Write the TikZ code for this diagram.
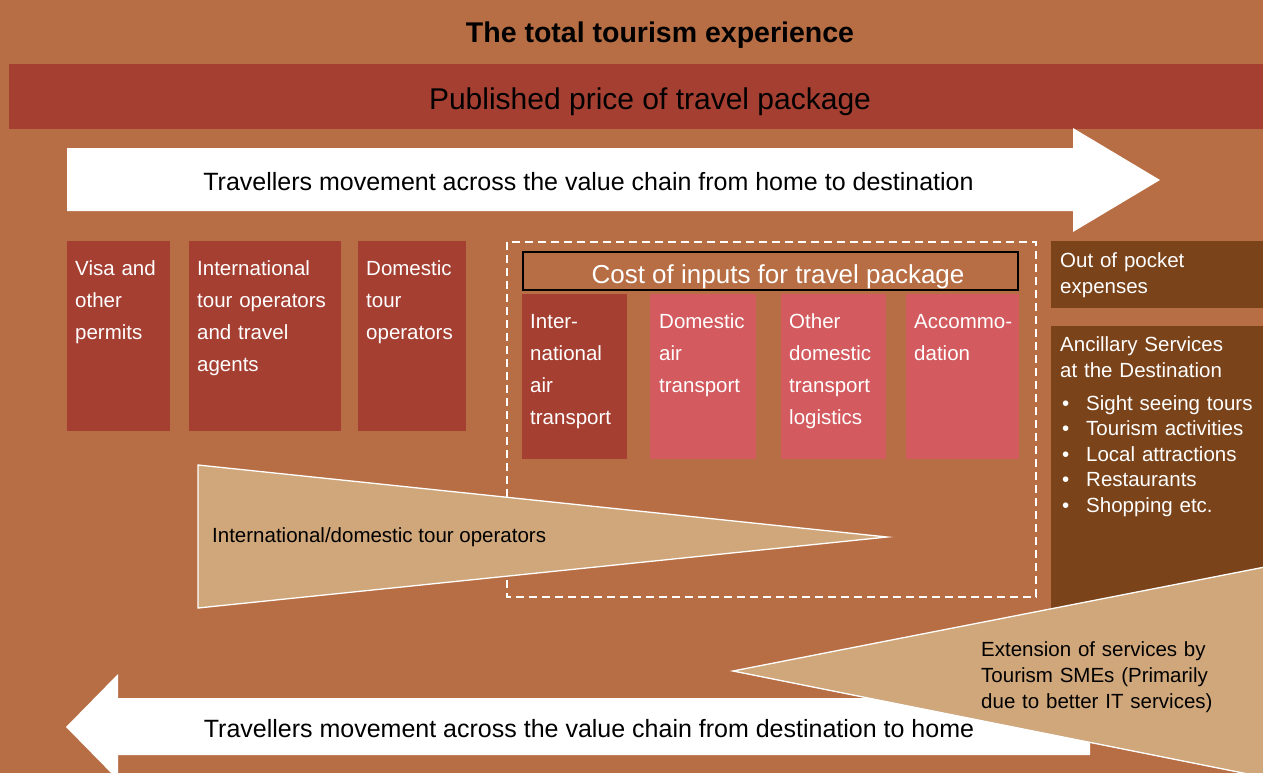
\documentclass[tikz,border=0pt]{standalone}
\usepackage{fontspec}
\setmainfont{Liberation Sans}
\definecolor{bg}{HTML}{B86E44}
\definecolor{darkred}{HTML}{A53F32}
\definecolor{pinkred}{HTML}{D35A5E}
\definecolor{brownbox}{HTML}{7A431A}
\definecolor{tanfill}{HTML}{D0A77B}
\begin{document}
\begin{tikzpicture}[x=1pt,y=-1pt,
  boxtxt/.style={anchor=base west,inner sep=0pt,text=white,align=left,text width=#1,font=\fontsize{20.5}{32}\selectfont},
  sidetxt/.style={anchor=base west,inner sep=0pt,text=white,align=left,text width=#1,font=\fontsize{20.5}{26}\selectfont},
  bultxt/.style={anchor=base west,inner sep=0pt,text=white,align=left,text width=#1,font=\fontsize{20.5}{25.5}\selectfont},
  arrowtxt/.style={anchor=base,inner sep=0pt,text=black,font=\fontsize{25}{30}\selectfont},
  tanshape/.style={fill=tanfill,draw=white,line width=1.3pt},
  whiteshape/.style={fill=white},
  redbox/.style={fill=darkred},
  pinkbox/.style={fill=pinkred},
  brownrect/.style={fill=brownbox}
]
\useasboundingbox (0,0) rectangle (1263,773);
\fill[bg] (0,0) rectangle (1263,773);

% title
\node[anchor=base,inner sep=0pt,font=\bfseries\fontsize{28.5}{34}\selectfont] (title) at (660,43) {The total tourism experience};

% published price band
\fill[redbox] (9,64) rectangle (1263,129);
\node[anchor=base,inner sep=0pt,font=\fontsize{30}{36}\selectfont] (price) at (650,110) {Published price of travel package};

% top arrow
\fill[whiteshape] (67,148) -- (1073,148) -- (1073,128) -- (1160,180) -- (1073,232) -- (1073,211) -- (67,211) -- cycle;
\node[arrowtxt] (toptxt) at (588.5,190) {Travellers movement across the value chain from home to destination};

% left boxes
\fill[redbox] (67,241) rectangle (170,431);
\fill[redbox] (189,241) rectangle (341,431);
\fill[redbox] (358,241) rectangle (466,431);
\node[boxtxt=95pt] (visa) at (75,275) {Visa and\\other\\permits};
\node[boxtxt=145pt] (intl) at (197,275) {International\\tour operators\\and travel\\agents};
\node[boxtxt=100pt] (dom) at (366,275) {Domestic\\tour\\operators};

% dashed box
\draw[white,line width=2pt,dash pattern=on 8pt off 5pt] (507,242) rectangle (1036,597);

% cost header
\draw[fill=bg,draw=black,line width=1.2pt] (523,252) rectangle (1018,290);
\node[anchor=base,inner sep=0pt,text=white,font=\fontsize{26}{30}\selectfont] (cost) at (778,283) {Cost of inputs for travel package};

% inner boxes
\fill[redbox] (522,294) rectangle (627,459);
\fill[pinkbox] (650,294) rectangle (756,459);
\fill[pinkbox] (781,294) rectangle (886,459);
\fill[pinkbox] (906,294) rectangle (1019,459);
\node[boxtxt=95pt] (iat) at (530,328) {Inter-\\national\\air\\transport};
\node[boxtxt=95pt] (dat) at (659,328) {Domestic\\air\\transport};
\node[boxtxt=95pt] (odt) at (789,328) {Other\\domestic\\transport\\logistics};
\node[boxtxt=100pt] (acc) at (914,328) {Accommo-\\dation};

% left tan triangle
\filldraw[tanshape] (198,465) -- (887,537) -- (198,608) -- cycle;
\node[anchor=base west,inner sep=0pt,font=\fontsize{20.5}{26}\selectfont] (tourop) at (212,542) {International/domestic tour operators};

% right side boxes
\fill[brownrect] (1051,241) rectangle (1263,308);
\node[sidetxt=205pt] (oop) at (1060,267) {Out of pocket\\expenses};
\fill[brownrect] (1051,326) rectangle (1263,650);
\node[sidetxt=205pt] (anc) at (1060,351) {Ancillary Services\\at the Destination};
\node[bultxt=205pt] (bul) at (1062,410) {\makebox[24pt][l]{•}Sight seeing tours\\\makebox[24pt][l]{•}Tourism activities\\\makebox[24pt][l]{•}Local attractions\\\makebox[24pt][l]{•}Restaurants\\\makebox[24pt][l]{•}Shopping etc.};

% bottom arrow
\fill[whiteshape] (1090,698) -- (118,698) -- (118,674) -- (66,727) -- (118,780) -- (118,755) -- (1090,755) -- cycle;
\node[arrowtxt] (bottxt) at (589,737) {Travellers movement across the value chain from destination to home};

% right tan triangle
\filldraw[tanshape] (1270,566) -- (733,671) -- (1258,776) -- (1270,776) -- cycle;
\node[anchor=base west,inner sep=0pt,align=left,text width=240pt,font=\fontsize{20.5}{26}\selectfont] (ext) at (981,656) {Extension of services by\\Tourism SMEs (Primarily\\due to better IT services)};
\end{tikzpicture}
\end{document}
